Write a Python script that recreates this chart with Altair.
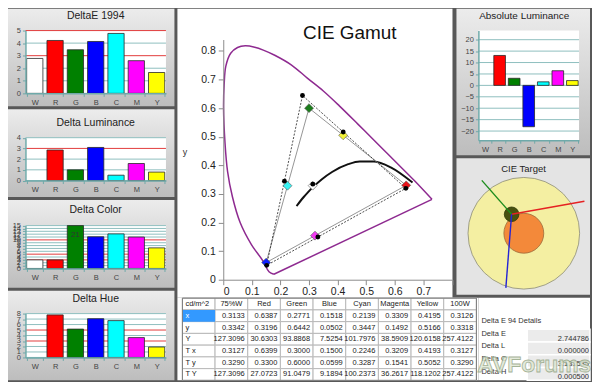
import altair as alt
import pandas as pd

# ---------------- data ----------------
CATS = ["W", "R", "G", "B", "C", "M", "Y"]
BAR_COLORS = ["#ffffff", "#ff0000", "#008000", "#0000ff", "#00ffff", "#ff00ff", "#ffff00"]
DIAMOND_COLORS = ["#ffffff", "#e8141a", "#1b7d1b", "#1020ff", "#3af2f2", "#f23af2", "#f2f23a"]

DELTA_E = [2.78, 4.21, 3.47, 4.13, 4.77, 2.60, 1.66]
DELTA_LUM = [0.0, 2.85, 1.00, 3.09, 0.50, 1.59, 0.79]
DELTA_COLOR = [3.0, 3.0, 21.0, 11.1, 12.1, 11.0, 7.2]
DELTA_HUE = [0.0, 7.76, 5.17, 7.07, 6.72, 3.62, 1.90]
ABS_LUM = [0.0, 13.1, 3.1, -18.1, 1.55, 6.4, 2.1]

MEAS_X = [0.3133, 0.6387, 0.2771, 0.1518, 0.2139, 0.3309, 0.4195]
MEAS_Y = [0.3342, 0.3196, 0.6442, 0.0502, 0.3447, 0.1492, 0.5166]
TARG_X = [0.3127, 0.6399, 0.3000, 0.1500, 0.2246, 0.3209, 0.4193]
TARG_Y = [0.3290, 0.3300, 0.6000, 0.0599, 0.3287, 0.1541, 0.5052]

LOCUS_X = [0.177, 0.160, 0.138, 0.099, 0.059, 0.032, 0.015, 0.006, 0.001, 0.003,
           0.009, 0.026, 0.050, 0.077, 0.110, 0.140, 0.180, 0.240, 0.294, 0.350,
           0.406, 0.470, 0.530, 0.600, 0.670, 0.730]
LOCUS_Y = [0.019, 0.028, 0.067, 0.122, 0.200, 0.290, 0.379, 0.480, 0.602, 0.680,
           0.747, 0.792, 0.812, 0.818, 0.813, 0.803, 0.785, 0.750, 0.705, 0.660,
           0.608, 0.545, 0.485, 0.415, 0.345, 0.281]
PURPLE_LINE_X = [0.730, 0.177]
PURPLE_LINE_Y = [0.281, 0.019]

PLANCK_X = [0.2565, 0.2807, 0.2952, 0.3135, 0.3451, 0.3805, 0.4369, 0.4770, 0.5267, 0.5857, 0.6620]
PLANCK_Y = [0.2577, 0.2884, 0.3048, 0.3237, 0.3516, 0.3768, 0.4041, 0.4137, 0.4133, 0.3931, 0.3400]

RINGS = ["outer", "inner", "measured"]
RING_X = [0.0, 0.0, -0.219]
RING_Y = [0.0, 0.0, 0.340]
SPOKES = ["red", "green", "blue"]
SPOKE_X2 = [1.086, -0.753, -0.322]
SPOKE_Y2 = [0.574, 0.948, -0.978]

TABLE_COLS = ["cd/m^2", "75%W", "Red", "Green", "Blue", "Cyan", "Magenta", "Yellow", "100W"]
ROW_LABELS = ["x", "y", "Y", "T x", "T y", "T Y"]
ROW_X = [0.3133, 0.6387, 0.2771, 0.1518, 0.2139, 0.3309, 0.4195, 0.3126]
ROW_Y = [0.3342, 0.3196, 0.6442, 0.0502, 0.3447, 0.1492, 0.5166, 0.3318]
ROW_LUM = [127.3096, 30.6303, 93.8868, 7.5254, 101.7976, 38.5909, 120.6158, 257.4122]
ROW_TX = [0.3127, 0.6399, 0.3000, 0.1500, 0.2246, 0.3209, 0.4193, 0.3127]
ROW_TY = [0.3290, 0.3300, 0.6000, 0.0599, 0.3287, 0.1541, 0.5052, 0.3290]
ROW_TLUM = [127.3096, 27.0723, 91.0479, 9.1894, 100.2373, 36.2617, 118.1202, 257.4122]

DET_TITLE = "Delta E 94 Details"
DET_LABELS = ["Delta E", "Delta L", "Delta C", "Delta H"]
DET_VALUES = [2.744786, 0.000000, 3.131585, 0.000500]

# ---------------- styling helpers ----------------
ONE = pd.DataFrame({"k": [0]})
GRID_TEAL = "#8fbfbf"
AX_TEAL = "#6ea9a9"
RED = "#e23c3c"
PANEL_GRAD = alt.LinearGradient(
    gradient="linear",
    stops=[alt.GradientStop(color="#ececec", offset=0), alt.GradientStop(color="#bdbdbd", offset=1)],
    x1=0, x2=0, y1=0, y2=1,
)


def bg_rect(x1, x2, y1, y2, fill):
    return alt.Chart(ONE).mark_rect(color=fill).encode(
        x=alt.value(x1), x2=alt.value(x2), y=alt.value(y1), y2=alt.value(y2)
    )


def title_text(txt, x, y, size, color="#222"):
    return alt.Chart(ONE).mark_text(text=txt, fontSize=size, color=color).encode(
        x=alt.value(x), y=alt.value(y)
    )


def bar_panel(title, vals, dom, ticks, reds, tile_w, tile_h, px, py, title_xy, title_size=10.5):
    x0, x1 = px
    y0, y1 = py
    df = pd.DataFrame({"cat": CATS, "val": vals})
    xsc = alt.Scale(domain=CATS, range=[x0, x1], paddingInner=0.2, paddingOuter=0.06)
    ysc = alt.Scale(domain=dom, range=[y1, y0], nice=False, zero=False, clamp=True)
    xax = alt.Axis(title=None, labelAngle=0, tickBand="extent", offset=-(tile_h - y1), zindex=1,
                   domainColor=AX_TEAL, domainWidth=1.5, tickColor=AX_TEAL, tickSize=3,
                   labelFontSize=7.5, labelColor="#444", labelPadding=2, grid=False)
    yax = alt.Axis(title=None, values=ticks, labelOverlap=False, offset=-x0, zindex=1,
                   domainColor=AX_TEAL, domainWidth=1.5, tickColor=AX_TEAL, tickSize=3,
                   labelFontSize=7.5, labelColor="#444", labelPadding=2, grid=False)
    X = alt.X("cat:N", sort=CATS, scale=xsc, axis=xax)
    Y = alt.Y("val:Q", scale=ysc, axis=yax)
    grid_vals = [t for t in ticks if t not in reds]
    layers = [
        bg_rect(0, tile_w, 0, tile_h, PANEL_GRAD),
        bg_rect(x0, x1, y0, y1, "#ffffff"),
        alt.Chart(pd.DataFrame({"val": grid_vals})).mark_rule(color=GRID_TEAL, strokeWidth=1).encode(
            y=Y, x=alt.value(x0), x2=alt.value(x1)),
    ]
    if reds:
        layers.append(
            alt.Chart(pd.DataFrame({"val": reds})).mark_rule(color=RED, strokeWidth=1).encode(
                y=Y, x=alt.value(x0), x2=alt.value(x1)))
    layers.append(
        alt.Chart(df).transform_filter(alt.datum.val != 0).mark_bar(stroke="#2a2a2a", strokeWidth=0.8).encode(
            x=X, y=Y,
            color=alt.Color("cat:N", scale=alt.Scale(domain=CATS, range=BAR_COLORS), legend=None),
        )
    )
    if any(v > dom[1] for v in vals):
        layers.append(
            alt.Chart(df).transform_filter(alt.datum.val > dom[1]).mark_text(dy=9, fontSize=8, color="#333").encode(
                x=X, y=Y, text=alt.Text("val:Q", format=".0f")))
    layers.append(title_text(title, title_xy[0], title_xy[1], title_size))
    return alt.layer(*layers).properties(width=tile_w, height=tile_h)


def stack(*charts, columns, spacing, bounds):
    return alt.concat(*charts, columns=columns, spacing=spacing, align="none", bounds=bounds).resolve_scale(
        color="independent")


# ---------------- left column (tiles 167 wide) ----------------
LX = (17.5, 158.5)
p1 = bar_panel("DeltaE 1994", DELTA_E, [0, 5], [0, 1, 2, 3, 4, 5], [3, 5], 167, 98, LX, (22, 85), (88, 7))
p2 = bar_panel("Delta Luminance", DELTA_LUM, [0, 4], [0, 1, 2, 3, 4], [3], 167, 88, LX, (28.5, 71.5), (88, 14))
p3 = bar_panel("Delta Color", DELTA_COLOR, [0, 15], list(range(16)), [3, 5, 10], 167, 88, LX, (25.7, 68.7), (88, 10.5))
p4 = bar_panel("Delta Hue", DELTA_HUE, [0, 8], list(range(9)), [3, 5], 167, 90, LX, (23, 67), (88, 8.5))
left_col = stack(p1, p2, p3, p4, columns=1, spacing=3, bounds="flush")

# ---------------- CIE gamut ----------------
GTW, GTH = 276, 290
gx = alt.Scale(domain=[0, 0.8], range=[46, 275.5], nice=False)
gy = alt.Scale(domain=[0, 0.84], range=[272, 31], nice=False)
TICKS_G = [0, 0.1, 0.2, 0.3, 0.4, 0.5, 0.6, 0.7, 0.8]
x_axis = alt.Axis(title=None, values=TICKS_G, format="~g", labelExpr="datum.value > 0.79 ? '' : datum.label",
                  offset=-(GTH - 272), zindex=1, domainColor="#8c8c8c", tickColor="#8c8c8c", tickSize=5,
                  labelFontSize=10.5, labelColor="#222", labelPadding=2, grid=False)
y_axis = alt.Axis(title="y", titleAngle=0, titleX=-39, titleY=148, titleFontSize=9, titleFontWeight="normal",
                  titleColor="#333", values=TICKS_G, format="~g", offset=-46, zindex=1,
                  domainColor="#8c8c8c", tickColor="#8c8c8c", tickSize=5, labelFontSize=10.5,
                  labelColor="#222", labelPadding=3, grid=False)
GX = lambda f: alt.X(f + ":Q", scale=gx, axis=x_axis)
GY = lambda f: alt.Y(f + ":Q", scale=gy, axis=y_axis)

locus_df = pd.DataFrame({"i": range(len(LOCUS_X)), "x": LOCUS_X, "y": LOCUS_Y})
pline_df = pd.DataFrame({"i": range(2), "x": PURPLE_LINE_X, "y": PURPLE_LINE_Y})
planck_df = pd.DataFrame({"i": range(len(PLANCK_X)), "x": PLANCK_X, "y": PLANCK_Y})
tri = ["R", "G", "B", "R"]
meas_tri = pd.DataFrame({"i": range(4), "x": [MEAS_X[CATS.index(c)] for c in tri],
                         "y": [MEAS_Y[CATS.index(c)] for c in tri]})
targ_tri = pd.DataFrame({"i": range(4), "x": [TARG_X[CATS.index(c)] for c in tri],
                         "y": [TARG_Y[CATS.index(c)] for c in tri]})
targ_pts = pd.DataFrame({"cat": CATS, "x": TARG_X, "y": TARG_Y})
meas_pts = pd.DataFrame({"cat": CATS, "x": MEAS_X, "y": MEAS_Y})

PURPLE = "#8e2a90"
gamut = alt.layer(
    bg_rect(0, GTW, 0, GTH, "#ffffff"),
    alt.Chart(locus_df).mark_line(color=PURPLE, strokeWidth=1.5, interpolate="catmull-rom").encode(
        x=GX("x"), y=GY("y"), order="i:Q"),
    alt.Chart(pline_df).mark_line(color=PURPLE, strokeWidth=1.5).encode(x=GX("x"), y=GY("y"), order="i:Q"),
    alt.Chart(planck_df).mark_line(color="#111", strokeWidth=2, interpolate="monotone").encode(
        x=GX("x"), y=GY("y"), order="i:Q"),
    alt.Chart(targ_tri).mark_line(color="#8a8a8a", strokeWidth=0.9).encode(x=GX("x"), y=GY("y"), order="i:Q"),
    alt.Chart(meas_tri).mark_line(color="#222", strokeWidth=0.8, strokeDash=[2, 1.5]).encode(
        x=GX("x"), y=GY("y"), order="i:Q"),
    alt.Chart(targ_pts).mark_point(shape="diamond", filled=True, size=80, opacity=1, stroke="#555",
                                   strokeWidth=0.6).encode(
        x=GX("x"), y=GY("y"),
        color=alt.Color("cat:N", scale=alt.Scale(domain=CATS, range=DIAMOND_COLORS), legend=None)),
    alt.Chart(meas_pts).mark_point(shape="circle", filled=True, size=24, opacity=1, color="#000").encode(
        x=GX("x"), y=GY("y")),
    title_text("CIE Gamut", 173, 24, 19, "#111"),
).properties(width=GTW, height=GTH)

# ---------------- absolute luminance ----------------
abs_lum = bar_panel("Absolute Luminance", ABS_LUM, [-24, 24], [-20, -15, -10, -5, 0, 5, 10, 15, 20], [],
                    134, 147, (22, 123), (22, 132), (68, 7), title_size=10)

# ---------------- CIE target ----------------
TW_, TH_ = 134, 137
tsx = alt.Scale(domain=[-1.207, 1.186], nice=False)
tsy = alt.Scale(domain=[-1.1, 1.346], nice=False)
rings = pd.DataFrame({"ring": RINGS, "x": RING_X, "y": RING_Y})
spokes = pd.DataFrame({"spoke": SPOKES, "x": [RING_X[2]] * 3, "y": [RING_Y[2]] * 3,
                       "x2": SPOKE_X2, "y2": SPOKE_Y2})
SPOKE_COLORS = {"red": "#e52222", "green": "#1d8c1d", "blue": "#2424d6"}


def ring_layer(name, size, fill, stroke):
    return alt.Chart(rings).transform_filter(alt.datum.ring == name).mark_point(
        shape="circle", filled=True, size=size, opacity=1, fill=fill, stroke=stroke, strokeWidth=0.8).encode(
        x=alt.X("x:Q", scale=tsx, axis=None), y=alt.Y("y:Q", scale=tsy, axis=None))


def spoke_layer(name):
    return alt.Chart(spokes).transform_filter(alt.datum.spoke == name).mark_rule(
        strokeWidth=1.4, color=SPOKE_COLORS[name]).encode(
        x=alt.X("x:Q", scale=tsx, axis=None), y=alt.Y("y:Q", scale=tsy, axis=None),
        x2="x2:Q", y2="y2:Q")


target = alt.layer(
    bg_rect(0, TW_, 0, TH_, "#e4e4e4"),
    ring_layer("outer", 12544, "#f4efa2", "#8c8c78"),
    ring_layer("inner", 1600, "#f3893a", "#9a6a3a"),
    ring_layer("measured", 215, "#48510f", "#303a08"),
    spoke_layer("red"),
    spoke_layer("green"),
    spoke_layer("blue"),
    title_text("CIE Target", 67.3, 11, 9.5),
).properties(width=TW_, height=TH_)

right_col = stack(abs_lum, target, columns=1, spacing=3, bounds="flush")
top_row = stack(gamut, right_col, columns=2, spacing=3, bounds="full")

# ---------------- table ----------------
rows = ["hdr"] + ROW_LABELS
recs = []
for c in TABLE_COLS:
    recs.append(dict(row="hdr", col=c, text=c, kind="corner" if c == TABLE_COLS[0] else "head"))
for r, vals in zip(ROW_LABELS, [ROW_X, ROW_Y, ROW_LUM, ROW_TX, ROW_TY, ROW_TLUM]):
    recs.append(dict(row=r, col=TABLE_COLS[0], text=r, kind="label"))
    for c, v in zip(TABLE_COLS[1:], vals):
        recs.append(dict(row=r, col=c, text=f"{v:.4f}", kind="value"))
tdf = pd.DataFrame(recs)
TBW, TBH = 302, 83
tbx = alt.Scale(domain=TABLE_COLS, range=[5, 300], paddingInner=0, paddingOuter=0)
tby = alt.Scale(domain=rows, range=[0.5, TBH], paddingInner=0, paddingOuter=0)
X_ = lambda bp: alt.X("col:N", scale=tbx, axis=None, bandPosition=bp)
Y_ = alt.Y("row:N", scale=tby, axis=None)

table = alt.layer(
    bg_rect(0, TBW, 0, TBH, "#ffffff"),
    alt.Chart(tdf).mark_rect(fill="#ffffff", stroke="#b9b9b9", strokeWidth=1).encode(x=X_(0.5), y=Y_),
    alt.Chart(tdf).transform_filter((alt.datum.row == "x") & (alt.datum.kind == "label")).mark_rect(
        fill="#3399ff").encode(x=X_(0.5), y=Y_),
    alt.Chart(tdf).transform_filter(alt.datum.kind == "head").mark_text(fontSize=7.5, color="#222").encode(
        x=X_(0.5), y=Y_, text="text:N"),
    alt.Chart(tdf).transform_filter((alt.datum.kind == "label") | (alt.datum.kind == "corner")).mark_text(
        fontSize=7.5, align="left", dx=3).encode(
        x=X_(0), y=Y_, text="text:N",
        color=alt.condition(alt.datum.row == "x", alt.value("#ffffff"), alt.value("#222222"))),
    alt.Chart(tdf).transform_filter(alt.datum.kind == "value").mark_text(
        fontSize=7.5, align="right", dx=-3, color="#222").encode(x=X_(1), y=Y_, text="text:N"),
    alt.Chart(ONE).mark_rect(fillOpacity=0, stroke="#7a7a7a", strokeWidth=1).encode(
        x=alt.value(5), x2=alt.value(300), y=alt.value(0.5), y2=alt.value(TBH)),
).properties(width=TBW, height=TBH)

# ---------------- Delta E 94 details ----------------
DW, DH = 112, 83
drows = [DET_TITLE] + DET_LABELS
dsy = alt.Scale(domain=drows, range=[19, DH], paddingInner=0, paddingOuter=0)
dlab = pd.DataFrame({"row": drows, "text": drows})
dval = pd.DataFrame({"row": DET_LABELS, "text": [f"{v:.6f}" for v in DET_VALUES]})
details = alt.layer(
    bg_rect(0, DW, 0, DH, "#ffffff"),
    alt.Chart(dval).mark_rect(fill="#ebebeb", stroke="#ffffff", strokeWidth=1.5).encode(
        x=alt.value(49), x2=alt.value(DW), y=alt.Y("row:N", scale=dsy, axis=None)),
    alt.Chart(dlab).mark_text(fontSize=7.5, align="left", dy=-2, color="#333").encode(
        x=alt.value(3), y=alt.Y("row:N", scale=dsy, axis=None), text="text:N"),
    alt.Chart(dval).mark_text(fontSize=7.5, align="right", dx=-1, dy=3, color="#333").encode(
        x=alt.value(DW), y=alt.Y("row:N", scale=dsy, axis=None), text="text:N"),
    alt.Chart(ONE).mark_text(text="AVForums", fontSize=23, fontWeight="bold", fill="#e0e7d5",
                             stroke="#96a787", strokeWidth=0.8, opacity=0.85).encode(
        x=alt.value(56), y=alt.value(68)),
).properties(width=DW, height=DH)

bottom_row = stack(table, details, columns=2, spacing=0, bounds="flush")
right_part = stack(top_row, bottom_row, columns=1, spacing=0, bounds="full")

chart = stack(left_col, right_part, columns=2, spacing=3, bounds="full").properties(
    background="#585858", padding=0
).configure(font="Liberation Sans").configure_view(stroke=None)

chart.save("out.html", embed_options={"renderer": "svg", "actions": False})
